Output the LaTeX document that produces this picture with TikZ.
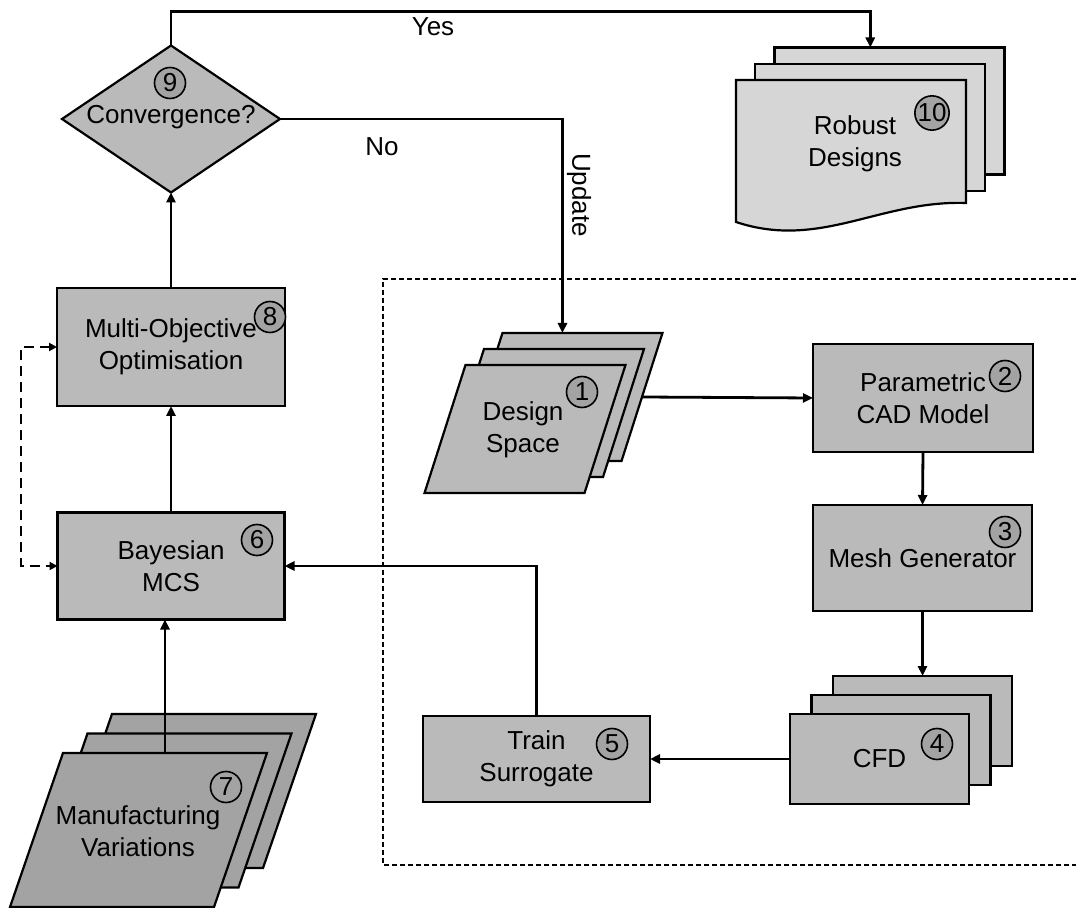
\documentclass[tikz,border=0pt]{standalone}
\usepackage{fontspec}
\setmainfont{Liberation Sans}
\usepackage{tikz}
\usetikzlibrary{shapes.geometric,arrows.meta,calc}
\colorlet{blockgray}{black!27}
\colorlet{docgray}{black!16}
\colorlet{inputgray}{black!36}
\colorlet{numgray}{black!36}
\newcommand*\numdiam{15.5pt}
\newcommand*\labelfont{\fontsize{13}{16}\selectfont}
\tikzset{
    block/.style      = {draw, rectangle, fill=blockgray, line width=1.1pt,
                        inner sep=0pt, outer sep=0pt, align=center, font=\labelfont},
    docsheet/.style   = {block, fill=docgray},
    slantsheet/.style = {block, xslant=#1},
    decision/.style   = {block, diamond},
    numcircle/.style  = {draw, circle, fill=numgray, line width=0.8pt,
                        minimum size=\numdiam, inner sep=0pt, font=\labelfont},
    caption/.style    = {font=\labelfont, inner sep=0pt},
    flow/.style       = {draw, line width=1.4pt, -{Triangle[length=5pt,width=4.5pt]}},
    feedback/.style   = {draw, line width=1.4pt, dash pattern=on 5pt off 3pt,
                        {Triangle[length=4pt,width=4pt]}-{Triangle[length=4pt,width=4pt]}},
    framebox/.style   = {draw, line width=0.7pt, dash pattern=on 2.5pt off 1.5pt},
}

\begin{document}
\begin{tikzpicture}[x=0.5pt, y=-0.5pt]
    \useasboundingbox (0,0) rectangle (1076,908);

    % dashed frame round the surrogate loop (open on the right)
    \draw[framebox] (1076,279) -- (383,279) -- (383,865) -- (1076,865);

    % left column: optimiser, sampling and convergence test
    \node[decision, minimum width=109pt, minimum height=73.5pt] (conv) at (171,119) {};
    \node[caption] (convtext) at (171,117) {Convergence?};
    \node[block, minimum width=114pt, minimum height=59pt] (moo) at (171,347) {Multi-Objective\\Optimisation};
    \node[block, minimum width=113.5pt, minimum height=53.5pt] (bayes) at (171,566) {Bayesian\\MCS};

    % stacked inputs: manufacturing variations
    \foreach \k in {2,1} {
        \node[slantsheet=0.344, fill=inputgray, minimum width=102pt, minimum height=77pt]
            (manu\k) at ($(138.5,830)+\k*(24.5,-19.5)$) {};
    }
    \node[slantsheet=0.344, fill=inputgray, minimum width=102pt, minimum height=77pt] (manu) at (138.5,830) {};
    \node[caption, align=center] (manutext) at (138,831) {Manufacturing\\Variations};

    % stacked inputs: design space
    \foreach \k in {2,1} {
        \node[slantsheet=0.32, minimum width=80pt, minimum height=64pt] (ds\k) at ($(525,429)+\k*(18.5,-16)$) {};
    }
    \node[slantsheet=0.32, minimum width=80pt, minimum height=64pt] (ds) at (525,429) {};
    \node[caption, align=center] (dstext) at (523,430) {Design\\Space};

    % evaluation chain
    \node[block, minimum width=110pt, minimum height=54pt] (cad) at (923,398) {Parametric\\CAD Model};
    \node[block, minimum width=109.5pt, minimum height=53pt] (mesh) at (922.5,558) {Mesh Generator};
    \foreach \k in {2,1} {
        \node[block, minimum width=89.5pt, minimum height=45pt] (cfd\k) at ($(879.5,759)+\k*(21.5,-19)$) {};
    }
    \node[block, minimum width=89.5pt, minimum height=45pt] (cfd) at (879.5,759) {CFD};
    \node[block, minimum width=113.5pt, minimum height=43pt] (train) at (536.5,759) {Train\\Surrogate};

    % output documents
    \foreach \k in {2,1} {
        \node[docsheet, minimum width=115pt, minimum height=63.5pt] (rd\k) at ($(851,143.5)+\k*(19.25,-16.25)$) {};
    }
    \draw[line width=1.1pt, fill=docgray] (736,80) -- (966,80) -- (966,203)
        .. controls (880,200) and (820,250) .. (736,222) -- cycle;
    \node[caption, align=center] (robust) at (855,144) {Robust\\Designs};

    % step numbers
    \node[numcircle] (num1) at (582,392) {1};
    \node[numcircle] (num2) at (1005,376) {2};
    \node[numcircle] (num3) at (1005,532) {3};
    \node[numcircle] (num4) at (937,744) {4};
    \node[numcircle] (num5) at (612,744) {5};
    \node[numcircle] (num6) at (257,540) {6};
    \node[numcircle] (num7) at (226,787) {7};
    \node[numcircle] (num8) at (270,317) {8};
    \node[numcircle] (num9) at (170,83) {9};
    \node[numcircle, minimum size=17pt] (num10) at (932,113) {10};

    % branch labels
    \node[caption] (yes) at (433,27) {Yes};
    \node[caption] (no) at (382,147) {No};
    \node[caption, rotate=-90] (update) at (579,195) {Update};

    % connectors
    \coordinate (dsin) at ($(ds2.north west)!0.375!(ds2.north east)$);
    \draw[flow] (ds2.east) -- (cad.west);
    \draw[flow] (cad.south) -- (mesh.north);
    \draw[flow] (mesh.south) -- (cfd2.north);
    \draw[flow] (cfd.west) -- (train.east);
    \draw[flow] (train.north) |- (bayes.east);
    \draw[flow] (manu.north) -- (manu.north |- bayes.south);
    \draw[flow] (bayes.north) -- (moo.south);
    \draw[flow] (moo.north) -- (conv.south);
    \draw[flow] (conv.east) -| (dsin);
    \draw[flow] (conv.north) -- ++(0,-34) -| (rd1.north |- rd2.north);
    \draw[feedback] (moo.west) -- ++(-36,0) |- (bayes.west);
\end{tikzpicture}
\end{document}
